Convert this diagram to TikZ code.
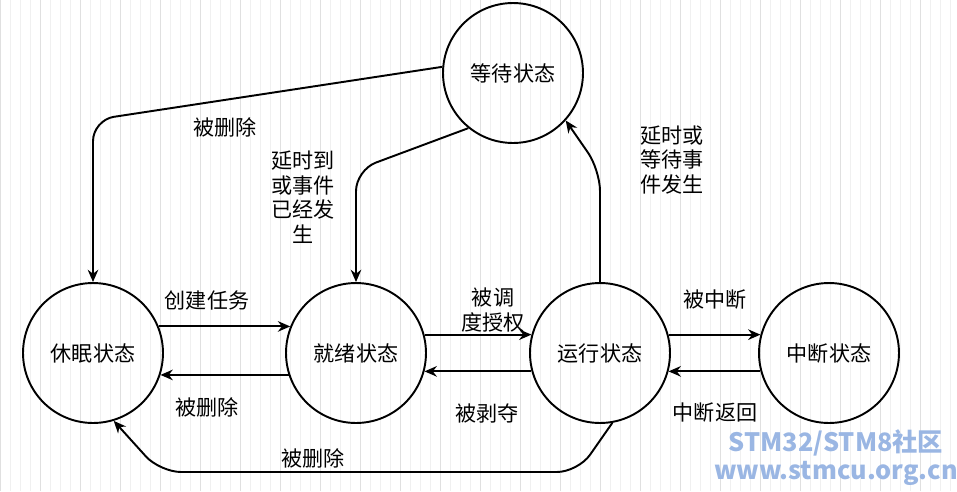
\documentclass[tikz,border=0pt]{standalone}
\usepackage{fontspec}
\setmainfont{Noto Sans CJK SC}
\usepackage{tikz}
\usetikzlibrary{arrows.meta}

\tikzset{
    state/.style = {draw, line width = 1.1pt, circle, minimum size = 2.8cm, font = \large},
    flow/.style = {draw, line width = 1.1pt, -{Stealth[length = 7pt, width = 6pt]}, rounded corners = 12pt},
    lbl/.style = {font = \large, align = center}
}

\begin{document}
\begin{tikzpicture}[x = 0.02cm, y = -0.02cm]
        \useasboundingbox (0, 0) rectangle (957, 491);
        \draw[step = 10, black!6, very thin] (0, 0) grid (957, 491);
        \draw[step = 40, black!12, very thin] (0, 0) grid (957, 491);

        \node[state] (wait) at (513, 73) {等待状态};
        \node[state] (sleep) at (93, 353) {休眠状态};
        \node[state] (ready) at (356, 353) {就绪状态};
        \node[state] (run) at (600, 353) {运行状态};
        \node[state] (intr) at (829, 353) {中断状态};

        \draw[flow] (wait.175) -- (93, 120) -- (sleep.north);
        \draw[flow] (wait.231) -- (356, 170) -- (ready.north);
        \draw[flow] (run.north) -- (600, 170) -- (wait.318);
        \draw[flow] (sleep.22) -- (ready.158);
        \draw[flow] (ready.198) -- (sleep.342);
        \draw[flow] (ready.15) -- (run.165);
        \draw[flow] (run.195) -- (ready.345);
        \draw[flow] (run.15) -- (intr.165);
        \draw[flow] (intr.195) -- (run.345);
        \draw[flow] (run.280) -- (578, 472) -- (160, 472) -- (sleep.287);

        \node[lbl] at (225, 127) {被删除};
        \node[lbl] at (303, 197) {延时到\\或事件\\已经发\\生};
        \node[lbl] at (672, 160) {延时或\\等待事\\件发生};
        \node[lbl] at (207, 300) {创建任务};
        \node[lbl] at (207, 407) {被删除};
        \node[lbl] at (493, 310) {被调\\度授权};
        \node[lbl] at (487, 413) {被剥夺};
        \node[lbl] at (715, 300) {被中断};
        \node[lbl] at (715, 413) {中断返回};
        \node[lbl] at (313, 458) {被删除};

        \node[font = \Large\bfseries, text = cyan!50!blue!40] at (836, 443) {STM32/STM8社区};
        \node[font = \Large\bfseries, text = cyan!50!blue!40] at (836, 473) {www.stmcu.org.cn};
\end{tikzpicture}
\end{document}
